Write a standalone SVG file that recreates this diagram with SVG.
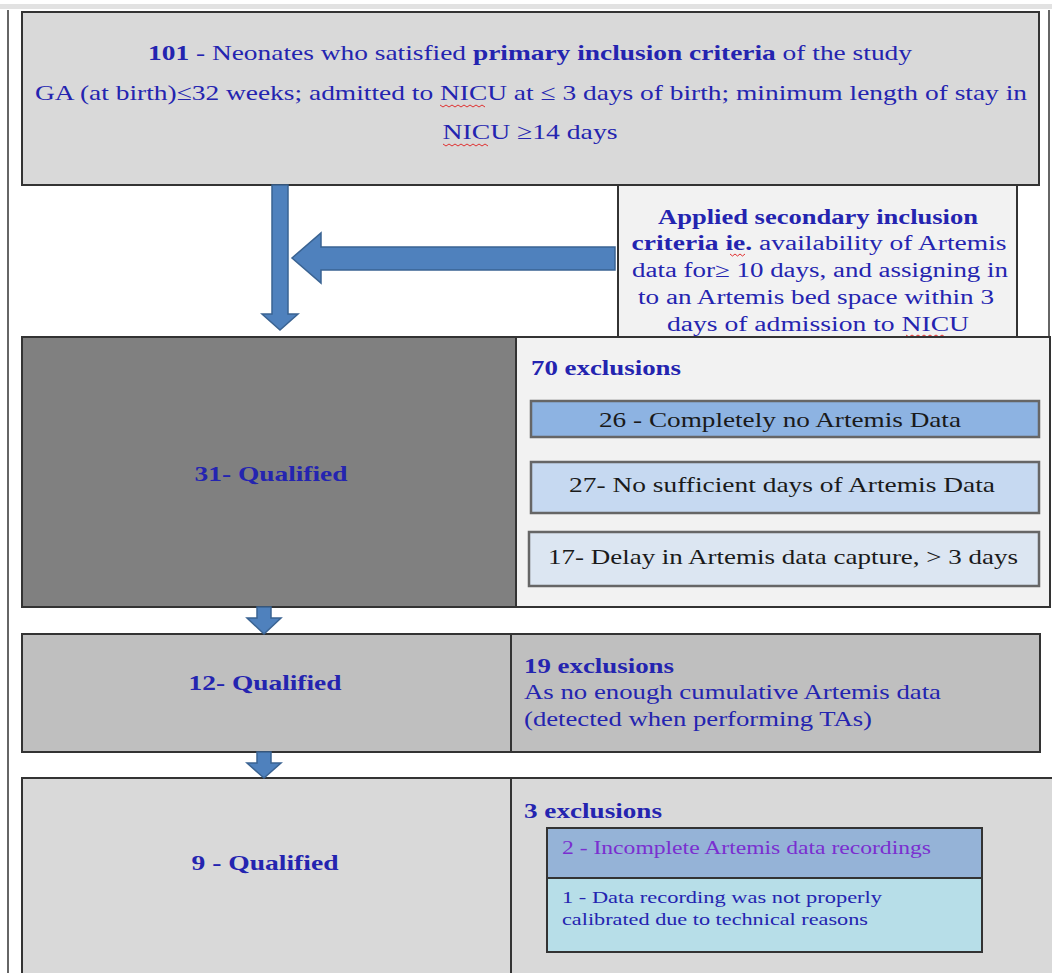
<svg xmlns="http://www.w3.org/2000/svg" width="1052" height="973" viewBox="0 0 1052 973">
<defs>
<style>
.box{stroke:#333;stroke-width:2}
.sub{stroke:#666;stroke-width:2.5}
.t{font-family:"Liberation Serif","DejaVu Serif",serif;fill:#2424b0}
.b{font-weight:bold}
.k{font-family:"Liberation Serif","DejaVu Serif",serif;fill:#1a1a1a}
.arr{fill:#4f81bd;stroke:#3a6392;stroke-width:1.5}
.sq{fill:none;stroke:#e03030;stroke-width:1}
</style>
</defs>
<rect x="0" y="0" width="1052" height="973" fill="#ffffff"/>
<rect x="0" y="4" width="1052" height="5" fill="#e2e2e2"/>
<line x1="8" y1="10" x2="8" y2="973" stroke="#333" stroke-width="1.5"/>
<line x1="1049" y1="10" x2="1049" y2="340" stroke="#333" stroke-width="1.5"/>

<g id="node-primary">
<rect class="box" x="22" y="12" width="1017" height="173" fill="#d9d9d9"/>
<text class="t" x="530" y="60" font-size="22" text-anchor="middle" textLength="764" lengthAdjust="spacingAndGlyphs"><tspan class="b">101</tspan> - Neonates who satisfied <tspan class="b">primary inclusion criteria</tspan> of the study</text>
<text class="t" x="531" y="100" font-size="22" text-anchor="middle" textLength="992" lengthAdjust="spacingAndGlyphs">GA (at birth)≤32 weeks; admitted to NICU at ≤ 3 days of birth; minimum length of stay in</text>
<text class="t" x="530" y="139" font-size="22" text-anchor="middle" textLength="175" lengthAdjust="spacingAndGlyphs">NICU ≥14 days</text>
<path class="sq" d="M440 105 l3 2 l3 -2 l3 2 l3 -2 l3 2 l3 -2 l3 2 l3 -2 l3 2 l3 -2 l3 2 l3 -2 l3 2 l3 -2 l3 2"/>
<path class="sq" d="M443 144 l3 2 l3 -2 l3 2 l3 -2 l3 2 l3 -2 l3 2 l3 -2 l3 2 l3 -2 l3 2 l3 -2 l3 2 l3 -2 l3 2"/>
</g>

<g id="node-secondary">
<rect class="box" x="618" y="185" width="399" height="152" fill="#f2f2f2"/>
<text class="t b" x="818" y="224" font-size="20" text-anchor="middle" textLength="320" lengthAdjust="spacingAndGlyphs">Applied secondary inclusion</text>
<text class="t" x="819" y="250" font-size="20" text-anchor="middle" textLength="375" lengthAdjust="spacingAndGlyphs"><tspan class="b">criteria ie.</tspan> availability of Artemis</text>
<text class="t" x="820" y="277" font-size="20" text-anchor="middle" textLength="376" lengthAdjust="spacingAndGlyphs">data for≥ 10 days, and assigning in</text>
<text class="t" x="816" y="304" font-size="20" text-anchor="middle" textLength="356" lengthAdjust="spacingAndGlyphs">to an Artemis bed space within 3</text>
<text class="t" x="818" y="331" font-size="20" text-anchor="middle" textLength="302" lengthAdjust="spacingAndGlyphs">days of admission to NICU</text>
<path class="sq" d="M730 254 l2.5 2 l2.5 -2 l2.5 2 l2.5 -2 l2.5 2 l2.5 -2"/>
<path class="sq" d="M906 335 l3 2 l3 -2 l3 2 l3 -2 l3 2 l3 -2 l3 2 l3 -2 l3 2 l3 -2 l3 2 l3 -2 l3 2"/>
</g>

<g id="node-q31">
<rect class="box" x="22" y="337" width="494" height="270" fill="#808080"/>
<text class="t b" x="271" y="481" font-size="22" text-anchor="middle" textLength="153" lengthAdjust="spacingAndGlyphs">31- Qualified</text>
</g>

<g id="node-ex70">
<rect class="box" x="516" y="337" width="534" height="270" fill="#f2f2f2"/>
<text class="t b" x="531" y="375" font-size="21" textLength="150" lengthAdjust="spacingAndGlyphs">70 exclusions</text>
<rect class="sub" x="531" y="401" width="508" height="36" fill="#8db3e2"/>
<text class="k" x="780" y="427" font-size="22" text-anchor="middle" textLength="362" lengthAdjust="spacingAndGlyphs">26 - Completely no Artemis Data</text>
<rect class="sub" x="531" y="462" width="508" height="51" fill="#c6d9f1"/>
<text class="k" x="782" y="492" font-size="22" text-anchor="middle" textLength="426" lengthAdjust="spacingAndGlyphs">27- No sufficient days of Artemis Data</text>
<rect class="sub" x="529" y="532" width="510" height="54" fill="#dce6f2"/>
<text class="k" x="783" y="564" font-size="22" text-anchor="middle" textLength="470" lengthAdjust="spacingAndGlyphs">17- Delay in Artemis data capture, &gt; 3 days</text>
</g>

<g id="node-q12">
<rect class="box" x="22" y="634" width="489" height="118" fill="#bfbfbf"/>
<text class="t b" x="265" y="690" font-size="22" text-anchor="middle" textLength="153" lengthAdjust="spacingAndGlyphs">12- Qualified</text>
</g>

<g id="node-ex19">
<rect class="box" x="511" y="634" width="529" height="118" fill="#bfbfbf"/>
<text class="t b" x="524" y="673" font-size="21" textLength="150" lengthAdjust="spacingAndGlyphs">19 exclusions</text>
<text class="t" x="524" y="699" font-size="21" textLength="417" lengthAdjust="spacingAndGlyphs">As no enough cumulative Artemis data</text>
<text class="t" x="524" y="726" font-size="21" textLength="348" lengthAdjust="spacingAndGlyphs">(detected when performing TAs)</text>
</g>

<g id="node-q9">
<rect class="box" x="22" y="778" width="489" height="200" fill="#d9d9d9"/>
<text class="t b" x="265" y="870" font-size="22" text-anchor="middle" textLength="147" lengthAdjust="spacingAndGlyphs">9 - Qualified</text>
</g>

<g id="node-ex3">
<rect class="box" x="511" y="778" width="545" height="200" fill="#d9d9d9"/>
<text class="t b" x="524" y="818" font-size="21" textLength="138" lengthAdjust="spacingAndGlyphs">3 exclusions</text>
<rect class="box" x="547" y="828" width="435" height="50" fill="#95b3d7"/>
<text class="t" x="562" y="854" font-size="19" style="fill:#7a2fd0" textLength="369" lengthAdjust="spacingAndGlyphs">2 - Incomplete Artemis data recordings</text>
<rect class="box" x="547" y="878" width="435" height="74" fill="#b7dee8"/>
<text class="t" x="562" y="903" font-size="17" textLength="320" lengthAdjust="spacingAndGlyphs">1 - Data recording was not properly</text>
<text class="t" x="562" y="925" font-size="17" textLength="306" lengthAdjust="spacingAndGlyphs">calibrated due to technical reasons</text>
</g>

<g id="connectors">
<polygon class="arr" points="272,185 288,185 288,314 298,314 280,330 262,314 272,314"/>
<polygon class="arr" points="615,247 615,270 321,270 321,283 292,258 321,233 321,247"/>
<polygon class="arr" points="257,607 271,607 271,618 281,618 264,634 247,618 257,618"/>
<polygon class="arr" points="257,752 271,752 271,763 281,763 264,778 247,763 257,763"/>
</g>
</svg>
